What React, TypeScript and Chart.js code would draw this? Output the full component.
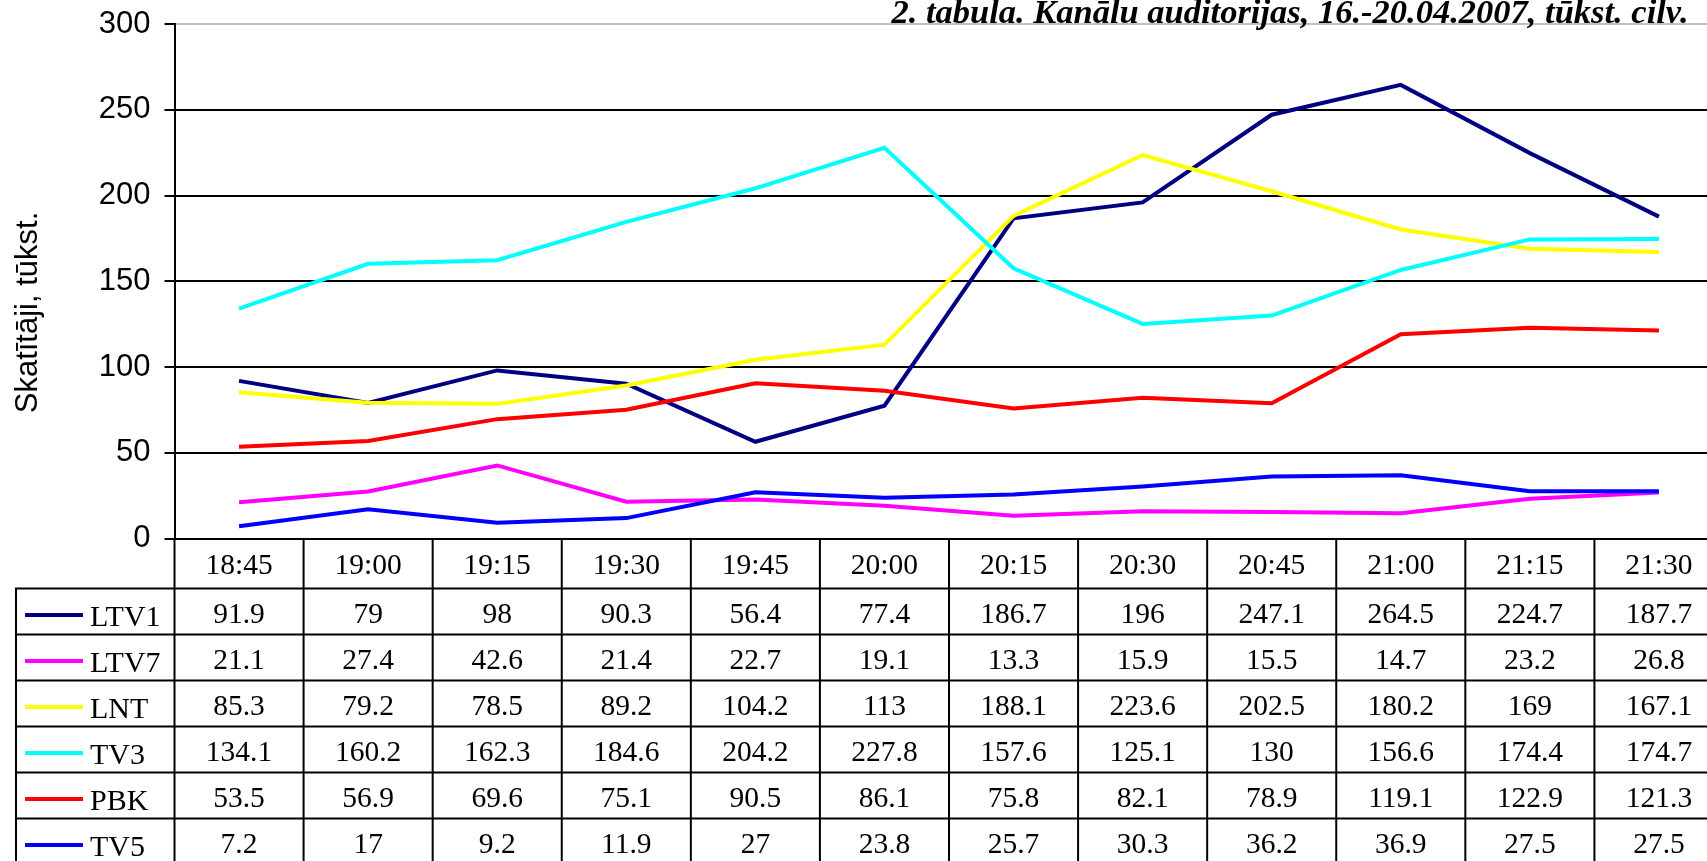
import React, { useEffect, useRef } from "react";
import { Chart, registerables } from "chart.js";

Chart.register(...registerables);

// ---- data ----
const categories = ["18:45", "19:00", "19:15", "19:30", "19:45", "20:00", "20:15", "20:30", "20:45", "21:00", "21:15", "21:30"];
const seriesNames = ["LTV1", "LTV7", "LNT", "TV3", "PBK", "TV5"];
const ltv1 = [91.9, 79, 98, 90.3, 56.4, 77.4, 186.7, 196, 247.1, 264.5, 224.7, 187.7];
const ltv7 = [21.1, 27.4, 42.6, 21.4, 22.7, 19.1, 13.3, 15.9, 15.5, 14.7, 23.2, 26.8];
const lnt = [85.3, 79.2, 78.5, 89.2, 104.2, 113, 188.1, 223.6, 202.5, 180.2, 169, 167.1];
const tv3 = [134.1, 160.2, 162.3, 184.6, 204.2, 227.8, 157.6, 125.1, 130, 156.6, 174.4, 174.7];
const pbk = [53.5, 56.9, 69.6, 75.1, 90.5, 86.1, 75.8, 82.1, 78.9, 119.1, 122.9, 121.3];
const tv5 = [7.2, 17, 9.2, 11.9, 27, 23.8, 25.7, 30.3, 36.2, 36.9, 27.5, 27.5];
const seriesColors = ["#000080", "#FF00FF", "#FFFF00", "#00FFFF", "#FF0000", "#0000FF"];
const yTicks = [0, 50, 100, 150, 200, 250, 300];
const chartTitle = "2. tabula. Kanālu auditorijas, 16.-20.04.2007, tūkst. cilv.";
const yAxisTitle = "Skatītāji, tūkst.";

const seriesValues = [ltv1, ltv7, lnt, tv3, pbk, tv5];

// ---- layout ----
const W = 1740;
const H = 870;
const PLOT_LEFT = 174.5;
const PLOT_RIGHT = 1723.5;
const PLOT_TOP = 24;
const PLOT_BOTTOM = 538.5;
const HEADER_H = 50;
const ROW_H = 46;
const TABLE_LEFT = 16;

const SERIF = "'Liberation Serif', 'Times New Roman', serif";
const SANS = "'Liberation Sans', Arial, sans-serif";

const tablePlugin = {
  id: "dataTable",
  afterDraw(chart: any) {
    const { ctx, chartArea, scales } = chart;
    const x = scales.x;
    const n = categories.length;
    const colW = x.getPixelForValue(1) - x.getPixelForValue(0);
    const edges: number[] = [];
    for (let i = 0; i < n; i++) edges.push(x.getPixelForValue(i) - colW / 2);
    edges.push(x.getPixelForValue(n - 1) + colW / 2);

    const headTop = chartArea.bottom;
    const headBottom = headTop + HEADER_H;
    const tableBottom = headBottom + ROW_H * seriesNames.length;

    ctx.save();
    ctx.strokeStyle = "#000";
    ctx.lineWidth = 2;
    ctx.beginPath();
    for (let r = 0; r <= seriesNames.length; r++) {
      const y = headBottom + r * ROW_H;
      ctx.moveTo(TABLE_LEFT, y);
      ctx.lineTo(edges[n], y);
    }
    for (let i = 0; i <= n; i++) {
      ctx.moveTo(edges[i], headTop);
      ctx.lineTo(edges[i], tableBottom);
    }
    ctx.moveTo(TABLE_LEFT, headBottom - 1);
    ctx.lineTo(TABLE_LEFT, tableBottom);
    ctx.stroke();

    // header labels
    ctx.fillStyle = "#000";
    ctx.font = `29.5px ${SERIF}`;
    ctx.textAlign = "center";
    ctx.textBaseline = "alphabetic";
    for (let i = 0; i < n; i++) {
      ctx.fillText(categories[i], x.getPixelForValue(i), headTop + 35);
    }
    // values
    for (let s = 0; s < seriesNames.length; s++) {
      const rowTop = headBottom + s * ROW_H;
      for (let i = 0; i < n; i++) {
        ctx.fillText(String(seriesValues[s][i]), x.getPixelForValue(i), rowTop + 34.5);
      }
    }
    // legend keys
    ctx.textAlign = "left";
    ctx.font = `30px ${SERIF}`;
    for (let s = 0; s < seriesNames.length; s++) {
      const rowTop = headBottom + s * ROW_H;
      ctx.strokeStyle = seriesColors[s];
      ctx.lineWidth = 4;
      ctx.beginPath();
      ctx.moveTo(25, rowTop + 26.5);
      ctx.lineTo(83, rowTop + 26.5);
      ctx.stroke();
      ctx.fillStyle = "#000";
      ctx.fillText(seriesNames[s], 90, rowTop + 37.4);
    }

    // y axis title
    ctx.save();
    ctx.translate(36.7, 312.5);
    ctx.rotate(-Math.PI / 2);
    ctx.textAlign = "center";
    ctx.textBaseline = "alphabetic";
    ctx.font = `31px ${SANS}`;
    ctx.fillStyle = "#000";
    ctx.fillText(yAxisTitle, 0, 0);
    ctx.restore();

    // chart title
    ctx.font = `italic bold 34.5px ${SERIF}`;
    ctx.textAlign = "right";
    ctx.textBaseline = "alphabetic";
    ctx.fillStyle = "#000";
    ctx.fillText(chartTitle, 1688.5, 22.8);
    ctx.restore();
  },
};

export default function App() {
  const canvasRef = useRef<HTMLCanvasElement | null>(null);

  useEffect(() => {
    const canvas = canvasRef.current;
    if (!canvas) return;
    const chart = new Chart(canvas, {
      type: "line",
      data: {
        labels: categories,
        datasets: seriesNames.map((name, i) => ({
          label: name,
          data: seriesValues[i],
          borderColor: seriesColors[i],
          backgroundColor: seriesColors[i],
          borderWidth: 4,
          pointRadius: 0,
          pointHoverRadius: 0,
          tension: 0,
          fill: false,
          order: seriesNames.length - 1 - i,
        })),
      },
      options: {
        responsive: false,
        animation: false,
        devicePixelRatio: 1,
        layout: {
          padding: {
            left: 0,
            top: PLOT_TOP,
            right: W - PLOT_RIGHT,
            bottom: H - PLOT_BOTTOM,
          },
        },
        plugins: {
          legend: { display: false },
          tooltip: { enabled: false },
          title: { display: false },
        },
        scales: {
          x: {
            type: "category",
            display: false,
            offset: true,
            grid: { display: false },
          },
          y: {
            min: 0,
            max: 300,
            afterFit: (s: any) => {
              s.width = PLOT_LEFT;
              s.paddingTop = 0;
              s.paddingBottom = 0;
            },
            afterBuildTicks: (s: any) => {
              s.ticks = yTicks.map((v) => ({ value: v }));
            },
            ticks: {
              stepSize: 50,
              padding: 14,
              color: "#000",
              font: { family: SANS, size: 31 },
            },
            grid: {
              color: (c: any) => (c.tick && c.tick.value === 300 ? "#c0c0c0" : "#000"),
              lineWidth: 2,
              tickLength: 10,
              tickColor: "#000",
              drawTicks: true,
            },
            border: { display: true, color: "#000", width: 2 },
          },
        },
      },
      plugins: [tablePlugin],
    });
    return () => chart.destroy();
  }, []);

  return (
    <div
      style={{
        position: "fixed",
        left: 0,
        top: 0,
        width: 1707,
        height: 861,
        overflow: "hidden",
        background: "#fff",
      }}
    >
      <canvas ref={canvasRef} width={W} height={H} style={{ display: "block", width: W, height: H }} />
    </div>
  );
}
